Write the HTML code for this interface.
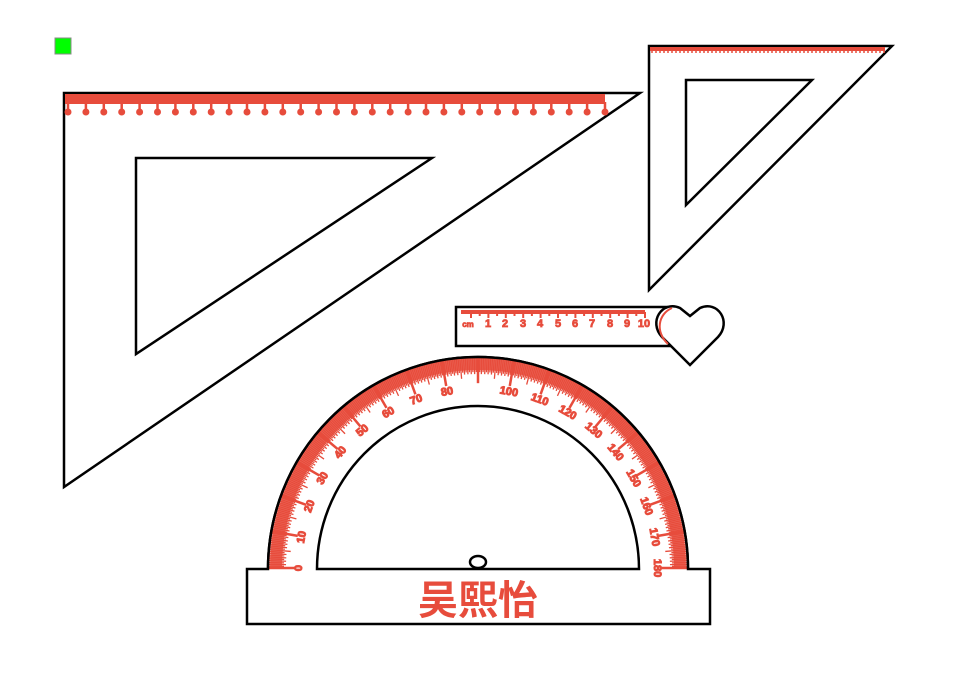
<!DOCTYPE html>
<html><head><meta charset="utf-8"><style>
html,body{margin:0;padding:0;background:#fff;width:967px;height:694px;overflow:hidden}
svg{display:block}
</style></head><body>
<svg id="s" width="967" height="694" viewBox="0 0 967 694" xmlns="http://www.w3.org/2000/svg">
<rect x="55" y="38" width="16" height="16" fill="#00ff00" stroke="#888" stroke-width="1"/>
<!-- big triangle -->
<polygon points="64,93 640,93 64,487" fill="#fff" stroke="#000" stroke-width="2.5"/>
<polygon points="136,158 432,158 136,354" fill="#fff" stroke="#000" stroke-width="2.5"/>
<rect x="65" y="94" width="540" height="10" fill="#e74c3c"/>
<g id="bigticks" stroke="#e74c3c" stroke-width="2.5" fill="#e74c3c"></g>
<!-- small triangle -->
<polygon points="649,46 892,46 649,290" fill="#fff" stroke="#000" stroke-width="2.5"/>
<polygon points="686,80 812,80 686,205" fill="#fff" stroke="#000" stroke-width="2.5"/>
<rect x="650" y="47" width="235" height="4" fill="#e74c3c"/>
<g id="smallticks" stroke="#e74c3c" stroke-width="1.5"></g>
<!-- ruler -->
<rect x="456" y="307" width="214" height="39" fill="#fff" stroke="#000" stroke-width="2.5"/>
<rect x="461" y="310" width="184" height="4" fill="#e74c3c"/>
<g id="rticks" stroke="#e74c3c" stroke-width="2"></g>
<g font-family="Liberation Sans, sans-serif" font-weight="bold" font-size="11" fill="#e74c3c" stroke="#e74c3c" stroke-width="0.8" text-anchor="middle">
<text x="468" y="327" font-size="8">cm</text>
<text x="488" y="327">1</text><text x="505" y="327">2</text><text x="523" y="327">3</text><text x="540" y="327">4</text><text x="558" y="327">5</text><text x="575" y="327">6</text><text x="592" y="327">7</text><text x="610" y="327">8</text><text x="627" y="327">9</text><text x="644" y="327">10</text>
</g>
<path d="M690,365 L662,337 C648,322 662,300 680,308 L690,316 L700,308 C718,300 732,322 718,337 Z" fill="#fff" stroke="#000" stroke-width="2.5"/>
<path d="M668,344 C655,332 658,314 672,308" fill="none" stroke="#e74c3c" stroke-width="2"/>
<!-- protractor -->
<path d="M247,569 L268,569 A210,212 0 0 1 688,569 L710,569 L710,624 L247,624 Z" fill="#fff" stroke="#000" stroke-width="2.5"/>
<path d="M270,568 A208,210 0 0 1 686,568 L674,568 A196,198 0 0 0 282,568 Z" fill="#e74c3c" opacity="0.85"/>
<g id="pticks" stroke="#e74c3c" stroke-width="1"></g>
<path d="M268,569 A210,212 0 0 1 688,569" fill="none" stroke="#000" stroke-width="2.5"/>
<path d="M317,569 A161,163 0 0 1 639,569 Z" fill="#fff" stroke="#000" stroke-width="2.5"/>
<ellipse cx="478" cy="562" rx="8" ry="6" fill="#fff" stroke="#000" stroke-width="2.5"/>
<g font-family="Liberation Sans, sans-serif" font-weight="bold" font-size="11" fill="#e74c3c" stroke="#e74c3c" stroke-width="1" text-anchor="middle">
<text transform="translate(298,568) rotate(-90)" dy="4">0</text>
<text transform="translate(301,537) rotate(-80)" dy="4">10</text>
<text transform="translate(309,506) rotate(-70)" dy="4">20</text>
<text transform="translate(322,478) rotate(-60)" dy="4">30</text>
<text transform="translate(340,452) rotate(-50)" dy="4">40</text>
<text transform="translate(362,430) rotate(-40)" dy="4">50</text>
<text transform="translate(388,412) rotate(-30)" dy="4">60</text>
<text transform="translate(416,399) rotate(-20)" dy="4">70</text>
<text transform="translate(447,391) rotate(-10)" dy="4">80</text>
<text transform="translate(509,391) rotate(10)" dy="4">100</text>
<text transform="translate(540,399) rotate(20)" dy="4">110</text>
<text transform="translate(568,412) rotate(30)" dy="4">120</text>
<text transform="translate(594,430) rotate(40)" dy="4">130</text>
<text transform="translate(616,452) rotate(50)" dy="4">140</text>
<text transform="translate(634,478) rotate(60)" dy="4">150</text>
<text transform="translate(647,506) rotate(70)" dy="4">160</text>
<text transform="translate(655,537) rotate(80)" dy="4">170</text>
<text transform="translate(658,568) rotate(90)" dy="4">180</text>
</g>
<text x="478" y="614" text-anchor="middle" font-family="Liberation Sans, 'Noto Sans CJK SC', sans-serif" font-weight="bold" font-size="40" fill="#e74c3c">吴熙怡</text>
</svg>
<script>
var NS="http://www.w3.org/2000/svg";
function L(g,x1,y1,x2,y2,w){var l=document.createElementNS(NS,"line");l.setAttribute("x1",x1);l.setAttribute("y1",y1);l.setAttribute("x2",x2);l.setAttribute("y2",y2);if(w)l.setAttribute("stroke-width",w);g.appendChild(l);}
function C(g,x,y,r){var c=document.createElementNS(NS,"circle");c.setAttribute("cx",x);c.setAttribute("cy",y);c.setAttribute("r",r);c.setAttribute("stroke","none");g.appendChild(c);}
var bt=document.getElementById("bigticks");
for(var i=0;i<=30;i++){var x=68+i*17.9;L(bt,x,102,x,112);C(bt,x,112,3.5);}
var st=document.getElementById("smallticks");
for(var i=0;i<=58;i++){var x=652+i*4;L(st,x,50,x,53);}
var rt=document.getElementById("rticks");
for(var i=0;i<=20;i++){var x=471+i*8.7;L(rt,x,312,x,i%2?316:318);}
var pt=document.getElementById("pticks");
for(var d=0;d<=180;d+=0.5){var a=d*Math.PI/180,c=Math.cos(a),s=Math.sin(a);
var r2=d%10==0?183:(d%5==0?188:(d%1==0?192:194));
L(pt,478-209*c,568-211*s,478-r2*c,568-r2*1.01*s,d%10==0?2.5:1.3);}
</script>
</body></html>
